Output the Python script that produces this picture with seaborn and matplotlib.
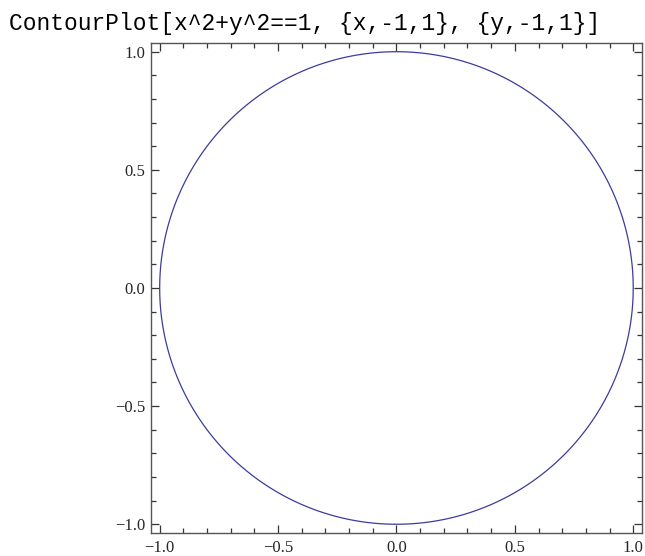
import numpy as np
import matplotlib
matplotlib.use("Agg")
import matplotlib.pyplot as plt
from matplotlib.ticker import MultipleLocator
import seaborn as sns

# Data: contour of f(x, y) = x^2 + y^2 at level 1 over the given ranges
x_range = [-1.0, 1.0]
y_range = [-1.0, 1.0]
contour_level = [1.0]
grid_n = 400
major_ticks = [-1.0, -0.5, 0.0, 0.5, 1.0]
title_text = "ContourPlot[x^2+y^2==1, {x,-1,1}, {y,-1,1}]"

sns.set_style("ticks")
plt.rcParams['font.family'] = ['Liberation Serif', 'DejaVu Serif']

xs = np.linspace(x_range[0], x_range[1], grid_n)
ys = np.linspace(y_range[0], y_range[1], grid_n)
X, Y = np.meshgrid(xs, ys)
Z = X**2 + Y**2

fig = plt.figure(figsize=(6.45, 5.56), dpi=100)
ax = fig.add_axes([0.234, 0.0414, 0.7613, 0.8813])
ax.contour(X, Y, Z, levels=contour_level, colors=['#3c3c9c'], linewidths=0.9)

pad = 0.037
ax.set_xlim(x_range[0] - pad, x_range[1] + pad)
ax.set_ylim(y_range[0] - pad, y_range[1] + pad)
ax.set_xticks(major_ticks)
ax.set_yticks(major_ticks)
ax.xaxis.set_minor_locator(MultipleLocator(0.1))
ax.yaxis.set_minor_locator(MultipleLocator(0.1))
ax.tick_params(which='both', direction='in', top=True, right=True,
               color='#333333', width=0.9)
ax.tick_params(which='major', length=6, labelsize=12)
ax.tick_params(axis='x', which='major', pad=5)
ax.tick_params(axis='y', which='major', pad=4)
ax.tick_params(which='minor', length=3.5)
ax.tick_params(top=True, right=True, labeltop=False, labelright=False)
for s in ax.spines.values():
    s.set_color('#555555')
    s.set_linewidth(1.0)
    s.set_visible(True)

fig.text(0.0135, 0.957, title_text, family=['Liberation Mono', 'DejaVu Sans Mono'],
         fontsize=16.5, va='center', ha='left', color='black')

fig.savefig("out.png", dpi=100)
